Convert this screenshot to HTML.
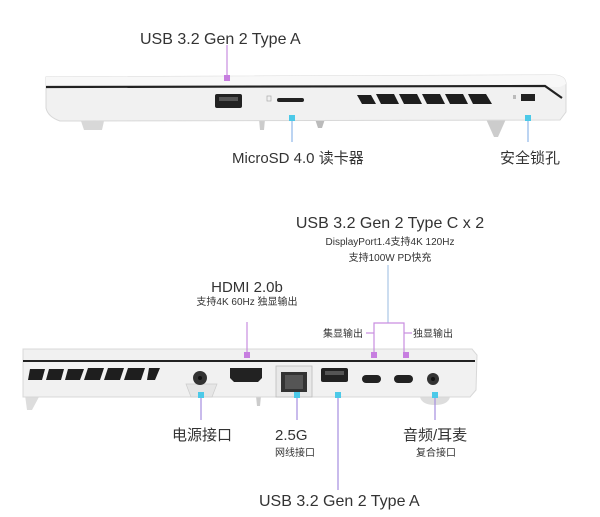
<!DOCTYPE html>
<html><head><meta charset="utf-8"><style>
body{margin:0;background:#fff;width:600px;height:517px;overflow:hidden}
svg{display:block}
text{font-family:"Liberation Sans","Noto Sans CJK SC",sans-serif;fill:#333}
</style></head><body>
<svg width="600" height="517" viewBox="0 0 600 517">
<!-- TOP LAPTOP -->
<path d="M81,121 L104,121 L102,130 L84,130 Z" fill="#d8d8d8"/>
<path d="M259,119 L265,119 L264,130 L260,130 Z" fill="#ccc"/>
<path d="M315,119 L325,119 L322,128 L318,128 Z" fill="#bbb"/>
<path d="M486,119 L506,119 L498,137 L494,137 Z" fill="#ccc"/>
<path d="M46,77 L555,75 Q566,76 566,84 L566,112 L560,120 L60,121 Q48,117 46,108 Z" fill="#f1f1f1" stroke="#d8d8d8" stroke-width="1"/>
<path d="M46,77 L555,75 Q566,76 566,84 L560,87 L46,86 Z" fill="#f8f8f8"/>
<path d="M46,87 L545,86 L562,98" stroke="#222" stroke-width="2.2" fill="none"/>
<rect x="215" y="94" width="27" height="14" rx="2" fill="#222"/>
<rect x="219" y="97" width="19" height="4" fill="#555"/>
<rect x="277" y="98" width="27" height="4" rx="2" fill="#222"/>
<rect x="267" y="96" width="4" height="5" fill="none" stroke="#aaa" stroke-width="0.7"/>
<g fill="#1e1e1e">
<path d="M357,95 L371,95 L376,104 L362,104 Z"/>
<path d="M376,94 L394,94 L399,104 L381,104 Z"/>
<path d="M399,94 L417,94 L422,104 L404,104 Z"/>
<path d="M422,94 L440,94 L445,104 L427,104 Z"/>
<path d="M445,94 L463,94 L468,104 L450,104 Z"/>
<path d="M468,94 L486,94 L492,104 L473,104 Z"/>
</g>
<rect x="521" y="94" width="14" height="7" fill="#222"/>
<rect x="513" y="95" width="3" height="4" fill="#bbb"/>
<!-- top connectors -->
<line x1="227" y1="45" x2="227" y2="79" stroke="#c98ee0" stroke-width="1.2"/>
<rect x="224" y="75" width="6" height="6" fill="#c77ee0"/>
<line x1="292" y1="118" x2="292" y2="142" stroke="#8fb8e8" stroke-width="1.2"/>
<rect x="289" y="115" width="6" height="6" fill="#4cc9e8"/>
<line x1="528" y1="118" x2="528" y2="142" stroke="#8fb8e8" stroke-width="1.2"/>
<rect x="525" y="115" width="6" height="6" fill="#4cc9e8"/>
<text x="140" y="44" font-size="16">USB 3.2 Gen 2 Type A</text>
<text x="232" y="163" font-size="15">MicroSD 4.0 读卡器</text>
<text x="500" y="163" font-size="15">安全锁孔</text>

<!-- BOTTOM LAPTOP -->
<path d="M25,395 L40,395 L32,410 L27,410 Z" fill="#ddd"/>
<path d="M256,396 L261,396 L260,406 L257,406 Z" fill="#ccc"/>
<path d="M420,397 L450,397 Q448,405 435,405 Q422,405 420,397 Z" fill="#ddd"/>
<path d="M23,349 L472,349 L477,355 L476,390 L470,397 L23,397 Z" fill="#f1f1f1" stroke="#d8d8d8" stroke-width="1"/>
<line x1="23" y1="361" x2="475" y2="361" stroke="#222" stroke-width="2"/>
<g fill="#1e1e1e">
<path d="M30,369 L45,369 L42,380 L28,380 Z"/>
<path d="M49,369 L64,369 L61,380 L46,380 Z"/>
<path d="M68,369 L84,369 L80,380 L65,380 Z"/>
<path d="M88,368 L104,368 L100,380 L84,380 Z"/>
<path d="M108,368 L124,368 L120,380 L104,380 Z"/>
<path d="M128,368 L145,368 L141,380 L124,380 Z"/>
<path d="M149,368 L160,368 L155,380 L147,380 Z"/>
</g>
<path d="M186,384 L217,384 L212,397 L191,397 Z" fill="#e6e6e6" stroke="#ccc" stroke-width="0.7"/>
<circle cx="200" cy="378" r="7" fill="#333"/><circle cx="200" cy="378" r="2" fill="#111"/>
<path d="M230,368 L262,368 L262,378 L258,382 L234,382 L230,378 Z" fill="#222"/>
<rect x="276" y="366" width="36" height="31" fill="#e8e8e8" stroke="#bbb" stroke-width="0.8"/>
<path d="M281,372 L307,372 L307,392 L281,392 Z" fill="#333"/>
<rect x="285" y="375" width="18" height="14" fill="#555"/>
<rect x="321" y="368" width="27" height="14" rx="2" fill="#222"/>
<rect x="325" y="371" width="19" height="4" fill="#555"/>
<rect x="362" y="375" width="19" height="8" rx="4" fill="#222"/>
<rect x="394" y="375" width="19" height="8" rx="4" fill="#222"/>
<circle cx="433" cy="379" r="6" fill="#333"/><circle cx="433" cy="379" r="2" fill="#111"/>
<!-- bottom connectors -->
<line x1="247" y1="322" x2="247" y2="355" stroke="#c98ee0" stroke-width="1.2"/>
<rect x="244" y="352" width="6" height="6" fill="#c77ee0"/>
<line x1="388" y1="265" x2="388" y2="323" stroke="#a9c6e6" stroke-width="1.2"/>
<path d="M374,356 L374,323 L404,323 L404,356" stroke="#c98ee0" stroke-width="1.2" fill="none"/>
<line x1="366" y1="333" x2="374" y2="333" stroke="#c98ee0" stroke-width="1.2"/>
<line x1="404" y1="333" x2="412" y2="333" stroke="#c98ee0" stroke-width="1.2"/>
<rect x="371" y="352" width="6" height="6" fill="#c77ee0"/>
<rect x="403" y="352" width="6" height="6" fill="#c77ee0"/>
<g stroke="#a58ee0" stroke-width="1.2">
<line x1="201" y1="395" x2="201" y2="420"/>
<line x1="297" y1="395" x2="297" y2="420"/>
<line x1="338" y1="395" x2="338" y2="490"/>
<line x1="435" y1="395" x2="435" y2="420"/>
</g>
<g fill="#4cc9e8">
<rect x="198" y="392" width="6" height="6"/>
<rect x="294" y="392" width="6" height="6"/>
<rect x="335" y="392" width="6" height="6"/>
<rect x="432" y="392" width="6" height="6"/>
</g>
<text x="390" y="228" font-size="16" text-anchor="middle">USB 3.2 Gen 2 Type C x 2</text>
<text x="390" y="245" font-size="10" text-anchor="middle">DisplayPort1.4支持4K 120Hz</text>
<text x="390" y="261" font-size="10" text-anchor="middle">支持100W PD快充</text>
<text x="247" y="292" font-size="15" text-anchor="middle">HDMI 2.0b</text>
<text x="247" y="305" font-size="10" text-anchor="middle">支持4K 60Hz 独显输出</text>
<text x="363" y="337" font-size="10" text-anchor="end">集显输出</text>
<text x="413" y="337" font-size="10">独显输出</text>
<text x="172" y="440" font-size="15">电源接口</text>
<text x="275" y="440" font-size="15">2.5G</text>
<text x="275" y="456" font-size="10">网线接口</text>
<text x="403" y="440" font-size="15">音频/耳麦</text>
<text x="416" y="456" font-size="10">复合接口</text>
<text x="259" y="506" font-size="16">USB 3.2 Gen 2 Type A</text>
</svg>
</body></html>
